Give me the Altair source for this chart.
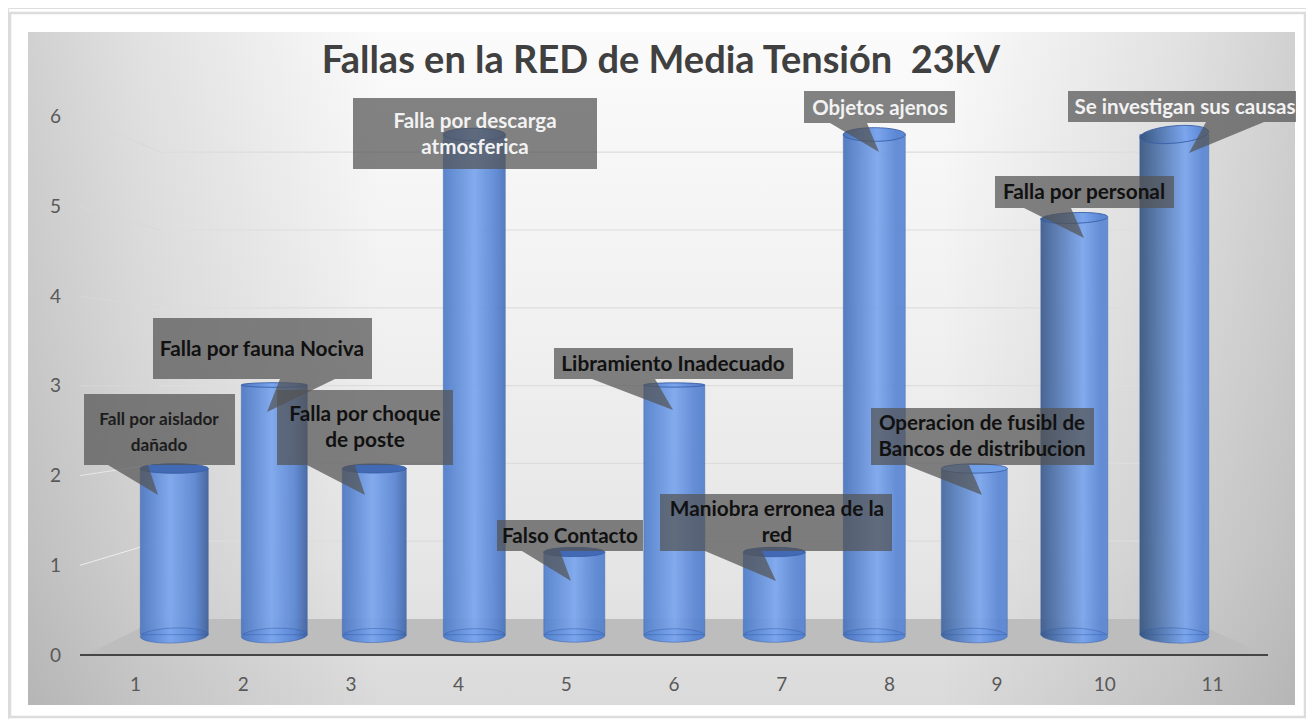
import altair as alt
import pandas as pd

# ---------- chart values ----------
CATEGORIAS = [1, 2, 3, 4, 5, 6, 7, 8, 9, 10, 11]
FALLAS = [2, 3, 2, 6, 1, 3, 1, 6, 2, 5, 6]
EJE_Y = [0, 1, 2, 3, 4, 5, 6]
TITULO = "Fallas en la RED de Media Tensión \u00a023kV"
ETIQUETAS = [
    "Fall por aislador\ndañado", "Falla por fauna Nociva", "Falla por choque\nde poste",
    "Falla por descarga\natmosferica", "Falso Contacto", "Libramiento Inadecuado",
    "Maniobra erronea de la\nred", "Objetos ajenos", "Operacion de fusibl de\nBancos de distribucion",
    "Falla por personal", "Se investigan sus causas",
]

# ---------- styling / annotation geometry (page pixels) ----------
W, H = 1298, 711
X0, Y0 = 8, 8
ANCHO = [68, 66, 64, 62, 61, 61, 62, 62, 66, 67, 69]
BRILLO = [.44, .46, .47, .5, .5, .5, .52, .55, .58, .63, .66]
IZQ = ["#4d78c2", "#4d78c2", "#4d78c2", "#4f7cc8", "#5280cc", "#5280cc", "#4f7cc8", "#4a74bc", "#43689f", "#3d5c8c", "#38567f"]
DER = ["#3f6099", "#40639f", "#4468a8", "#4a74bc", "#5280cc", "#5280cc", "#5582d0", "#5a88d4", "#5a88d4", "#5a88d4", "#5a88d4"]
RY_TOP = [.14, .07, .14, .2, .15, .07, .15, .22, .14, .16, .25]
TAPA = ["#4169b4", None, "#4169b4", None, "#4169b4", None, "#4169b4", None, "#6f9de6", None, None]
GIRO_TOP = [0, 0, 0, 0, 0, 0, 0, 0, 0, 358, 355]
GIRO_BASE = [358, 358, 359, 359, 0, 0, 0, 1, 1, 2, 2]

CAJA_X0 = [84, 153, 277, 353, 497, 554, 660, 804, 871, 995, 1068]
CAJA_X1 = [235, 372, 453, 597, 643, 793, 892, 955, 1094, 1174, 1296]
CAJA_Y0 = [394, 318, 390, 98, 520, 348, 494, 91, 408, 176, 91]
CAJA_Y1 = [465, 379, 465, 169, 551, 379, 551, 123, 465, 208, 122]
TEXTO_X = [159, 262, 365, 475, 570, 673, 777, 880, 982, 1084, 1185]
TEXTO_Y = [420, 350, 415, 122, 537, 365, 510, 109, 424, 193, 108]
TEXTO_T = [17.2, 20.8, 20.8, 20.6, 20.6, 20.8, 20.8, 20.4, 20.6, 20.8, 20.6]
TEXTO_C = ["#1c1c1c", "#111111", "#111111", "#f2f2f2", "#111111", "#111111", "#111111", "#f2f2f2", "#111111", "#111111", "#f2f2f2"]
PICO_B0 = [108, 280, 307, None, 522, 592, 705, 830, 906, 1024, 1206]
PICO_B1 = [148, 335, 355, None, 560, 655, 762, 867, 969, 1071, 1264]
PICO_X = [158, 267, 365, None, 571, 673, 776, 879, 982, 1084, 1189]
PICO_Y = [495, 412, 495, None, 581, 410, 581, 152, 495, 238, 153]


def px_x(**k):
    return alt.Scale(domain=[X0, X0 + W], nice=False, zero=False, **k)


def px_y(**k):
    return alt.Scale(domain=[Y0 + H, Y0], nice=False, zero=False, **k)


# axis scale (front edge of the chart), bar scale (mid depth), wall scale (back)
esc_x_eje = alt.Scale(domain=[1 + (X0 - 135) / 107.7, 1 + (X0 + W - 135) / 107.7], nice=False, zero=False)
esc_y_eje = alt.Scale(domain=[(655 - (Y0 + H)) / 89.7, (655 - Y0) / 89.7], nice=False, zero=False)
esc_x_bar = alt.Scale(domain=[1 + (X0 - 174.3) / 100, 1 + (X0 + W - 174.3) / 100], nice=False, zero=False, padding=0)
esc_y_bar = alt.Scale(domain=[(635.5 - (Y0 + H)) / 83.5, (635.5 - Y0) / 83.5], nice=False, zero=False)
esc_y_muro = alt.Scale(domain=[(619 - (Y0 + H)) / 77.8, (619 - Y0) / 77.8], nice=False, zero=False)

capas = []


def caja_px(x0, x1, y0, y1, **mark):
    d = pd.DataFrame({"a": [x0], "b": [x1], "c": [y0], "d": [y1]})
    return alt.Chart(d).mark_rect(**mark).encode(
        x=alt.X("a:Q", scale=px_x(), axis=None), x2="b:Q",
        y=alt.Y("c:Q", scale=px_y(), axis=None), y2="d:Q")


# card and panel
capas.append(caja_px(10, 1305, 13, 717, fill="#ffffff", stroke="#dcdcdc", strokeWidth=2.5))
capas.append(caja_px(28, 1295, 32, 705, fill=alt.LinearGradient(
    gradient="linear", x1=0, y1=0, x2=0, y2=1,
    stops=[alt.GradientStop(offset=0, color="#fbfbfb"), alt.GradientStop(offset=.45, color="#f0f0f0"),
           alt.GradientStop(offset=.78, color="#e6e6e6"), alt.GradientStop(offset=1, color="#dadada")])))
capas.append(caja_px(28, 1295, 32, 705, fill=alt.LinearGradient(
    gradient="linear", x1=0, y1=0, x2=1, y2=0,
    stops=[alt.GradientStop(offset=0, color="rgba(0,0,0,0.17)"), alt.GradientStop(offset=.09, color="rgba(0,0,0,0.10)"),
           alt.GradientStop(offset=.28, color="rgba(0,0,0,0.0)"), alt.GradientStop(offset=.72, color="rgba(0,0,0,0.0)"),
           alt.GradientStop(offset=.91, color="rgba(0,0,0,0.10)"), alt.GradientStop(offset=1, color="rgba(0,0,0,0.17)")])))

# back-wall gridlines
d_muro = pd.DataFrame({"v": EJE_Y[1:], "a": [160] * 6, "b": [1188] * 6})
capas.append(alt.Chart(d_muro).mark_rule(color="#dddddd", strokeWidth=1.2).encode(
    x=alt.X("a:Q", scale=px_x(), axis=None), x2="b:Q",
    y=alt.Y("v:Q", scale=esc_y_muro, axis=None)))

# side-wall gridlines
lados = pd.DataFrame({
    "a": [80] * 6, "b": [160] * 6,
    "c": [655 - 89.7 * v for v in EJE_Y[1:]], "d": [619 - 77.8 * v for v in EJE_Y[1:]],
    "col": ["#eeeeee", "#e8e8e8", "#d8d8d8", "#d8d8d8", "#d8d8d8", "#d8d8d8"],
})
capas.append(alt.Chart(lados).mark_rule(strokeWidth=1).encode(
    x=alt.X("a:Q", scale=px_x(), axis=None), x2="b:Q",
    y=alt.Y("c:Q", scale=px_y(), axis=None), y2="d:Q",
    color=alt.Color("col:N", scale=None)))

# floor
suelo = pd.DataFrame({"y": [619, 655], "a": [158, 86], "b": [1187, 1266]})
capas.append(alt.Chart(suelo).mark_area(orient="horizontal", color="#bdbdbd").encode(
    y=alt.Y("y:Q", scale=px_y(), axis=None),
    x=alt.X("a:Q", scale=px_x(), axis=None), x2="b:Q"))

# axis line
capas.append(alt.Chart(pd.DataFrame({"v": [0], "a": [80], "b": [1268]})).mark_rule(color="#454545", strokeWidth=2).encode(
    x=alt.X("a:Q", scale=px_x(), axis=None), x2="b:Q",
    y=alt.Y("v:Q", scale=esc_y_eje, axis=None)))

# real axes carrying the tick labels
d_ejes = pd.DataFrame({"c": CATEGORIAS, "v": [0] * 11})
capas.append(alt.Chart(d_ejes).mark_point(opacity=0).encode(
    x=alt.X("c:Q", scale=esc_x_eje, title=None, axis=alt.Axis(
        values=CATEGORIAS, grid=False, domain=False, ticks=False, labelPadding=-35, labelBaseline="middle", zindex=1,
        labelFontSize=19, labelColor="#595959", labelFont="Lato", labelOverlap=False, format="d", labelFlush=False)),
    y=alt.Y("v:Q", scale=esc_y_eje, title=None, axis=alt.Axis(
        values=EJE_Y, grid=False, domain=False, ticks=False, labelPadding=-47, labelAlign="center", zindex=1,
        labelFontSize=19, labelColor="#595959", labelFont="Lato", labelOverlap=False, format="d", labelFlush=False))))


def grad(i):
    return alt.LinearGradient(gradient="linear", x1=0, y1=0, x2=1, y2=0, stops=[
        alt.GradientStop(offset=0, color=IZQ[i]),
        alt.GradientStop(offset=BRILLO[i], color="#7ba6ee"),
        alt.GradientStop(offset=(BRILLO[i] + 1) / 2 + .08, color="#5b87d4"),
        alt.GradientStop(offset=1, color=DER[i])])


def elipse(r):
    return f"M -1 0 A 1 {r} 0 1 1 1 0 A 1 {r} 0 1 1 -1 0 Z"


for i, (c, v) in enumerate(zip(CATEGORIAS, FALLAS)):
    fila = pd.DataFrame({"c": [c], "v": [v], "cero": [0], "pie": [0.01]})
    enc_x = alt.X("c:Q", scale=esc_x_bar, axis=None)
    # bottom ring
    capas.append(alt.Chart(fila).mark_point(shape=elipse(.22), size=ANCHO[i] ** 2, filled=True, fill=grad(i),
                                            strokeWidth=0, opacity=1, angle=GIRO_BASE[i]).encode(
        x=enc_x, y=alt.Y("cero:Q", scale=esc_y_bar, axis=None)))
    capas.append(alt.Chart(fila).mark_bar(size=ANCHO[i], orient="vertical", fill=grad(i), stroke="#3a5fa6",
                                          strokeWidth=.8, strokeOpacity=.6, opacity=.93).encode(
        x=enc_x, y=alt.Y("v:Q", scale=esc_y_bar, axis=None), y2="pie:Q"))
    # faint rim of the base, seen through the cylinder
    capas.append(alt.Chart(fila).mark_point(shape=elipse(.22), size=ANCHO[i] ** 2, filled=False,
                                            stroke="#3a5fa6", strokeWidth=.9, opacity=.55, angle=GIRO_BASE[i]).encode(
        x=enc_x, y=alt.Y("cero:Q", scale=esc_y_bar, axis=None)))
    # top cap
    capas.append(alt.Chart(fila).mark_point(shape=elipse(RY_TOP[i]), size=ANCHO[i] ** 2, filled=True,
                                            fill=TAPA[i] if TAPA[i] else grad(i),
                                            stroke="#3a5fa6", strokeWidth=.9, opacity=1, angle=GIRO_TOP[i]).encode(
        x=enc_x, y=alt.Y("v:Q", scale=esc_y_bar, axis=None)))

# callout boxes and pointers
cajas = pd.DataFrame({"a": CAJA_X0, "b": CAJA_X1, "c": CAJA_Y0, "d": CAJA_Y1})
capas.append(alt.Chart(cajas).mark_rect(color="#535353", opacity=.72).encode(
    x=alt.X("a:Q", scale=px_x(), axis=None), x2="b:Q",
    y=alt.Y("c:Q", scale=px_y(), axis=None), y2="d:Q"))

picos = []
for i in range(11):
    if PICO_X[i] is None:
        continue
    picos.append({"id": i, "y": CAJA_Y1[i], "a": PICO_B0[i], "b": PICO_B1[i]})
    picos.append({"id": i, "y": PICO_Y[i], "a": PICO_X[i], "b": PICO_X[i]})
capas.append(alt.Chart(pd.DataFrame(picos)).mark_area(orient="horizontal", color="#535353", opacity=.72).encode(
    y=alt.Y("y:Q", scale=px_y(), axis=None),
    x=alt.X("a:Q", scale=px_x(), axis=None), x2="b:Q", detail="id:N"))

textos = pd.DataFrame({"t": ETIQUETAS, "x": TEXTO_X, "y": TEXTO_Y, "s": TEXTO_T, "col": TEXTO_C})
capas.append(alt.Chart(textos).mark_text(font="Lato", fontWeight="bold", lineBreak="\n", lineHeight=25.5,
                                         align="center", baseline="middle").encode(
    x=alt.X("x:Q", scale=px_x(), axis=None), y=alt.Y("y:Q", scale=px_y(), axis=None),
    text="t:N", size=alt.Size("s:Q", scale=None), color=alt.Color("col:N", scale=None)))

chart = alt.layer(*capas).resolve_scale(x="independent", y="independent").properties(
    width=W, height=H, padding=0, autosize=alt.AutoSizeParams(type="none"),
    title=alt.TitleParams(TITULO, anchor="middle", offset=0, dy=111, baseline="bottom", font="Lato", fontWeight="bold",
                          fontSize=38, color="#404040", dx=4, zindex=1),
).configure_view(stroke=None).configure(background="white")

chart.save("out.html", embed_options={"renderer": "svg", "actions": False})
